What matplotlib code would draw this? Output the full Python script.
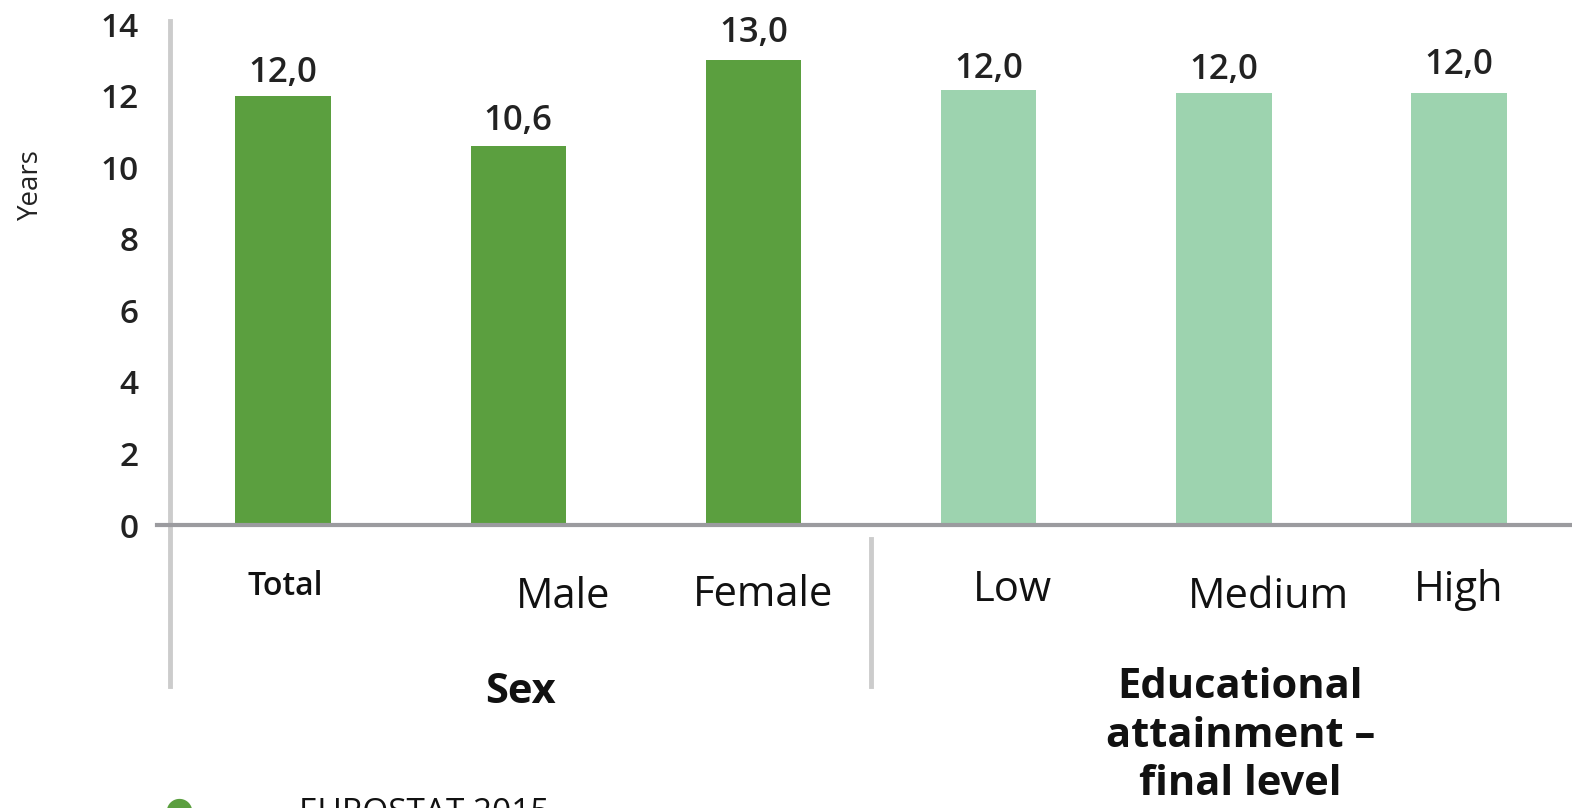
import matplotlib
matplotlib.use("Agg")
import matplotlib.pyplot as plt

# Data
categories = ["Total", "Male", "Female", "Low", "Medium", "High"]
values = [12.0, 10.6, 13.0, 12.15, 12.07, 12.07]
value_labels = ["12,0", "10,6", "13,0", "12,0", "12,0", "12,0"]
groups = ["Sex", "Educational\nattainment –\nfinal level"]
y_ticks = [0, 2, 4, 6, 8, 10, 12, 14]
source = "EUROSTAT 2015"

DARK = "#5B9F3F"
LIGHT = "#9DD3AF"
bar_colors = [DARK, DARK, DARK, LIGHT, LIGHT, LIGHT]

plt.rcParams["font.family"] = ["Open Sans", "DejaVu Sans"]

fig = plt.figure(figsize=(15.72, 8.08), dpi=100)
ax = fig.add_axes([0.0999, 0.3502, 0.9001, 0.6200])

x = list(range(len(categories)))
ax.bar(x, values, width=0.405, color=bar_colors, zorder=2)

ax.set_xlim(-0.5357, 5.48)
ax.set_ylim(0, 14)

# value labels (slightly irregular placement as in the source)
label_offsets = [0.64, 0.69, 0.75, 0.59, 0.64, 0.79]
for xi, v, lab, off in zip(x, values, value_labels, label_offsets):
    ax.text(xi, v + off, lab, ha="center", va="center", fontsize=25,
            fontweight="semibold", color="#222222")

for s in ["top", "right", "left"]:
    ax.spines[s].set_visible(False)
ax.spines["bottom"].set_color("#9B9B9F")
ax.spines["bottom"].set_linewidth(3)
ax.spines["bottom"].set_zorder(3)

ax.set_yticks(y_ticks)
ax.set_yticklabels([str(t) for t in y_ticks], fontsize=24, fontweight="semibold",
                   color="#222222")
ax.tick_params(axis="y", length=0, pad=13)
ax.set_xticks([])

# vertical grey separators
ax.plot([-0.48, -0.48], [14.1, -4.5], color="#CCCCCC", lw=3.5,
        clip_on=False, zorder=1)
sep = (x[2] + x[3]) / 2
ax.plot([sep, sep], [-0.4, -4.5], color="#CCCCCC", lw=3.5,
        clip_on=False, zorder=1)

# category labels
cat_style = [
    (-1.71, 23, "semibold"), (-2.01, 30, "normal"), (-1.96, 30, "normal"),
    (-1.81, 30, "normal"), (-2.01, 30, "normal"), (-1.81, 30, "normal"),
]
cat_dx = [0.01, 0.19, 0.04, 0.1, 0.19, 0.0]
for xi, c, (yy, fs, fw), dx in zip(x, categories, cat_style, cat_dx):
    ax.text(xi + dx, yy, c, ha="center", va="center", fontsize=fs,
            fontweight=fw, color="#111111")

# group labels
ax.text(1.01, -4.67, groups[0], ha="center", va="center", fontsize=30,
        fontweight="bold", color="#111111")
ax.text(4.07, -3.97, groups[1], ha="center", va="top", fontsize=30,
        fontweight="bold", color="#111111", linespacing=1.24)

ax.set_ylabel("Years", fontsize=20, color="#222222")
ax.yaxis.set_label_coords(-0.079, 0.68)

# source line at the bottom (cut off in the original)
fig.text(0.1135, -0.004, "\u25CF", fontsize=24, color=DARK, va="center", ha="center")
fig.text(0.19, 0.013, source, fontsize=24, color="#111111", va="top")

fig.savefig("out.png", dpi=100)
